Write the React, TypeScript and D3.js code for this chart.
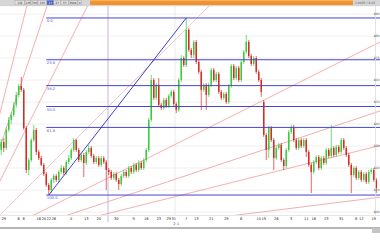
import React from 'react';
import * as d3 from 'd3';

const opens = [128.2,131.8,129.1,137.3,141.9,144.1,148.7,153.2,157.3,155.5,
138.2,119.1,123.6,132.7,137.3,127.3,124.5,121.4,117.3,112.3,
110.0,114.6,116.4,114.6,118.2,120.0,117.7,122.7,124.5,128.2,
132.7,128.2,123.6,125.9,122.3,127.3,129.1,125.5,122.7,124.5,
121.4,124.5,122.7,119.1,118.2,115.5,117.3,114.6,112.7,116.4,
118.2,116.4,120.0,118.2,121.4,119.1,122.3,120.0,123.6,128.2,
141.9,160.0,151.9,157.8,148.7,147.3,150.9,148.2,152.8,154.6,
149.1,146.4,160.0,170.0,166.8,182.8,173.7,171.4,177.3,168.2,
163.7,155.5,157.8,153.2,157.8,164.6,160.0,162.8,154.6,151.9,
153.7,150.0,157.3,166.4,160.9,165.5,160.0,168.2,172.8,177.3,
170.9,167.3,170.0,163.7,160.0,150.0,135.0,128.2,138.2,132.7,
124.5,129.1,130.5,123.6,120.9,128.2,136.4,138.7,132.7,129.1,
132.7,130.0,132.7,127.3,121.4,118.2,122.7,125.0,120.0,124.5,
122.3,128.2,125.5,129.1,125.9,129.6,127.3,132.7,129.1,125.9,
121.4,116.8,120.0,115.5,118.2,114.6,117.3,113.7,118.2,119.1,
114.6];

const highs = [133.2,133.6,138.7,143.2,145.5,150.0,154.6,158.2,161.4,156.4,
139.1,124.5,133.6,139.6,138.2,128.2,125.5,122.3,118.2,113.2,
115.5,117.3,117.3,119.1,121.4,120.9,123.6,125.9,129.1,133.6,
133.2,129.1,126.9,126.9,128.2,130.5,130.0,126.4,125.5,125.5,
125.5,125.5,123.6,120.0,119.1,118.2,118.2,115.5,117.3,119.1,
119.1,120.9,120.9,122.3,122.3,123.6,123.2,124.5,129.1,142.8,
162.3,160.9,158.7,160.9,149.6,151.9,151.9,153.7,155.5,155.5,
150.0,160.9,171.4,170.9,188.2,183.7,174.6,178.2,178.2,169.1,
164.6,158.7,158.7,158.7,165.5,165.5,163.7,163.7,155.5,154.6,
154.6,158.2,167.3,167.3,166.4,166.4,169.1,173.7,180.5,178.2,
171.9,170.9,170.9,164.6,160.9,150.9,135.9,139.1,139.1,133.6,
130.0,131.4,131.4,124.5,129.1,137.3,139.6,139.6,133.6,133.6,
133.6,133.6,133.6,128.2,122.3,123.6,125.9,125.9,125.5,125.5,
129.1,129.1,139.6,130.0,130.5,130.5,133.6,133.6,130.0,126.9,
122.3,120.9,120.9,119.1,119.1,118.2,118.2,119.1,120.0,120.0,
115.5];

const lows = [125.9,127.3,128.2,136.4,140.0,143.2,147.3,151.9,154.6,137.3,
117.7,116.8,122.7,131.8,125.9,123.6,120.9,116.4,111.4,107.7,
108.6,113.2,113.7,113.7,117.3,116.8,116.8,121.8,123.6,127.3,
127.3,122.7,122.7,115.9,121.4,126.4,124.5,121.8,121.8,120.5,
120.5,121.8,110.0,116.8,114.6,114.6,113.7,110.0,111.9,115.5,
115.5,115.5,117.3,117.3,118.2,118.2,119.1,119.1,122.7,127.3,
141.0,150.9,150.9,147.8,146.4,146.4,147.3,147.3,151.9,148.2,
145.0,145.5,159.1,165.9,165.9,172.8,170.0,170.0,167.3,162.8,
146.4,154.6,146.4,152.3,156.9,159.1,159.1,153.7,150.9,150.9,
149.1,149.1,156.4,160.0,160.0,159.1,159.1,167.3,171.9,170.0,
166.4,166.4,162.8,159.1,152.3,134.1,123.6,124.5,131.8,119.1,
123.6,128.2,122.7,119.1,120.0,127.3,135.5,131.8,128.2,128.2,
129.1,129.1,125.0,120.5,108.6,117.3,121.8,119.1,119.1,121.4,
121.4,124.5,124.5,125.0,125.0,126.4,126.4,128.2,125.0,120.5,
108.6,115.9,114.6,114.6,113.7,113.7,112.7,112.7,117.3,113.7,
108.6];

const closes = [131.8,129.1,137.3,141.9,144.1,148.7,153.2,157.3,155.5,138.2,
119.1,123.6,132.7,137.3,127.3,124.5,121.4,117.3,112.3,110.0,
114.6,116.4,114.6,118.2,120.0,117.7,122.7,124.5,128.2,132.7,
128.2,123.6,125.9,122.3,127.3,129.1,125.5,122.7,124.5,121.4,
124.5,122.7,119.1,118.2,115.5,117.3,114.6,112.7,116.4,118.2,
116.4,120.0,118.2,121.4,119.1,122.3,120.0,123.6,128.2,141.9,
160.0,151.9,157.8,148.7,147.3,150.9,148.2,152.8,154.6,149.1,
146.4,160.0,170.0,166.8,182.8,173.7,171.4,177.3,168.2,163.7,
155.5,157.8,153.2,157.8,164.6,160.0,162.8,154.6,151.9,153.7,
150.0,157.3,166.4,160.9,165.5,160.0,168.2,172.8,177.3,170.9,
167.3,170.0,163.7,160.0,154.6,135.0,128.2,138.2,132.7,124.5,
129.1,130.5,123.6,120.9,128.2,136.4,138.7,132.7,129.1,132.7,
130.0,132.7,127.3,121.4,118.2,122.7,125.0,120.0,124.5,122.3,
128.2,125.5,129.1,125.9,129.6,127.3,132.7,129.1,125.9,121.4,
116.8,120.0,115.5,118.2,114.6,117.3,113.7,118.2,119.1,114.6,
110.9];

const priceTicks = [100, 110, 120, 130, 140, 150, 160, 170, 180, 190];
const fibLevels = [0, 0.236, 0.382, 0.5, 0.618, 1];
const fibLabels = ['0.0', '23.6', '38.2', '50.0', '61.8', '100.0'];
const fanRatios = [8, 4, 3, 2, 1, 1 / 2, 1 / 3, 1 / 4, 1 / 8];
const fanOriginIndex = -14.1;
const fanOriginPrice = 83.2;
const fanUnit = 1.136;
const dateTickIdx = [1, 7, 9, 15, 17, 19, 21, 28, 34, 39, 46, 53, 58, 63, 67, 69, 74, 78, 84, 90, 96, 103, 105, 110, 116, 122, 125, 130, 136, 142, 144, 149];
const dateTickLabels = ['29', '6', '8', '16', '20', '22', '26', '5', '13', '20', '30', '9', '16', '23', '29', '31', '7', '13', '21', '29', '6', '15', '19', '26', '3', '11', '16', '23', '31', '8', '12', '19'];
const monthTickIdx = [70];
const monthTickLabels = ['2-1'];
const toolButtons = ['1W', '1M', '3M', '6M', '1Y', '2Y', '5Y', 'MAX', '▾'];

export default function App() {
  const W = 380, H = 240;
  const n = closes.length;
  const x = d3.scaleLinear().domain([-0.5, n + 0.5]).range([0, W]);
  const y = d3.scaleLinear().domain([100, 190]).range([212, 14]);
  const step = x(1) - x(0);
  const bodyW = step * 0.6;

  const lowIdx = d3.minIndex(lows);
  const highIdx = d3.maxIndex(highs);
  const lowP = lows[lowIdx];
  const highP = highs[highIdx];

  const fanEnd = n + 60;
  const line = d3.line<[number, number]>().x(d => x(d[0])).y(d => y(d[1]));

  const green = '#3acb3c';
  const red = '#d92a22';

  const btnW = [10, 6, 7, 9, 7, 7, 8, 9, 4];
  let bx = 15;
  const btns = toolButtons.map((t, k) => {
    const r = { t, x0: bx, w: btnW[k], k };
    bx += btnW[k];
    return r;
  });

  return (
    <svg width={W} height={H} style={{ position: 'fixed', left: 0, top: 0, background: '#fff' }}
      fontFamily="DejaVu Sans, sans-serif">
      <defs>
        <clipPath id="plot"><rect x={0} y={6} width={W} height={209} /></clipPath>
      </defs>
      <rect x={0} y={0} width={W} height={H} fill="#fff" />
      {priceTicks.map(t => (
        <line key={'g' + t} x1={0} x2={375} y1={y(t)} y2={y(t)} stroke="#ececec" strokeWidth={0.8} />
      ))}
      <line x1={x(42.7)} x2={x(42.7)} y1={6} y2={222} stroke="#d6c6e2" strokeWidth={1.3} />
      <line x1={x(69.5)} x2={x(69.5)} y1={6} y2={215} stroke="#e6e6e6" strokeWidth={0.8} />
      <g clipPath="url(#plot)">
        {fanRatios.map((r, k) => (
          <path key={'f' + k}
            d={line([[fanOriginIndex, fanOriginPrice], [fanEnd, fanOriginPrice + r * fanUnit * (fanEnd - fanOriginIndex)]]) || ''}
            stroke={r === 1 ? '#eab4b4' : '#ee9494'} strokeWidth={0.75} fill="none" />
        ))}
        {closes.map((c, i) => {
          const o = opens[i];
          const up = c >= o;
          const col = up ? green : red;
          const top = y(Math.max(o, c));
          const bot = y(Math.min(o, c));
          return (
            <g key={'c' + i}>
              <line x1={x(i)} x2={x(i)} y1={y(highs[i])} y2={y(lows[i])} stroke={col} strokeWidth={0.7} />
              <rect x={x(i) - bodyW / 2} y={top} width={bodyW} height={Math.max(0.8, bot - top)} fill={col} />
            </g>
          );
        })}
        {fibLevels.map((f, k) => {
          const p = highP - f * (highP - lowP);
          return (
            <g key={'fb' + k}>
              <line x1={x(lowIdx) - 2.5} x2={W} y1={y(p)} y2={y(p)} stroke="#4646d2" strokeWidth={1} />
              <text x={x(lowIdx) - 2} y={y(p) + 4.4} fontSize={3.8} fill="#5a5ad4">{fibLabels[k]}</text>
            </g>
          );
        })}
        <path d={line([[lowIdx, lowP], [highIdx, highP]]) || ''} stroke="#2a2ac4" strokeWidth={0.9} fill="none" />
      </g>
      <line x1={375.5} x2={375.5} y1={6} y2={215} stroke="#dcdcdc" strokeWidth={0.8} />
      {priceTicks.map(t => (
        <g key={'t' + t}>
          <line x1={374} x2={376} y1={y(t)} y2={y(t)} stroke="#888" strokeWidth={0.6} />
          <text x={379.6} y={y(t) + 1.4} fontSize={3.2} fill="#555" textAnchor="end">{t}</text>
        </g>
      ))}
      <line x1={0} x2={W} y1={215.5} y2={215.5} stroke="#e0e0e0" strokeWidth={0.8} />
      {dateTickIdx.map((d, k) => (
        <text key={'d' + k} x={x(d)} y={219.5} fontSize={3.6} fill="#222" textAnchor="middle">{dateTickLabels[k]}</text>
      ))}
      {monthTickIdx.map((d, k) => (
        <text key={'m' + k} x={x(d)} y={224.5} fontSize={3.6} fill="#444" textAnchor="middle">{monthTickLabels[k]}</text>
      ))}
      <rect x={0} y={227} width={W} height={2} fill="#b4b4b4" />
      <rect x={372} y={228} width={8} height={5} fill="#c4c4c4" />
      <rect x={0} y={0} width={W} height={5.5} fill="#d6d6d6" />
      {btns.map(b => (
        <g key={'b' + b.k}>
          <rect x={b.x0} y={0.3} width={b.w - 0.5} height={4.6}
            fill={b.k === 4 ? '#3c5ad2' : '#e4e4e4'} stroke="#9a9a9a" strokeWidth={0.4} />
          <text x={b.x0 + b.w / 2 - 0.25} y={4} fontSize={3.2} textAnchor="middle"
            fill={b.k === 4 ? '#fff' : '#333'}>{b.t}</text>
        </g>
      ))}
      <rect x={90} y={0} width={263} height={5} fill="#f2922a" />
      <rect x={90} y={0} width={263} height={1.2} fill="#f7b064" />
      <text x={355} y={4} fontSize={3} fill="#555">1.0455 / 0.25</text>
      <line x1={0} x2={W} y1={5.7} y2={5.7} stroke="#bdbdbd" strokeWidth={0.6} />
    </svg>
  );
}
